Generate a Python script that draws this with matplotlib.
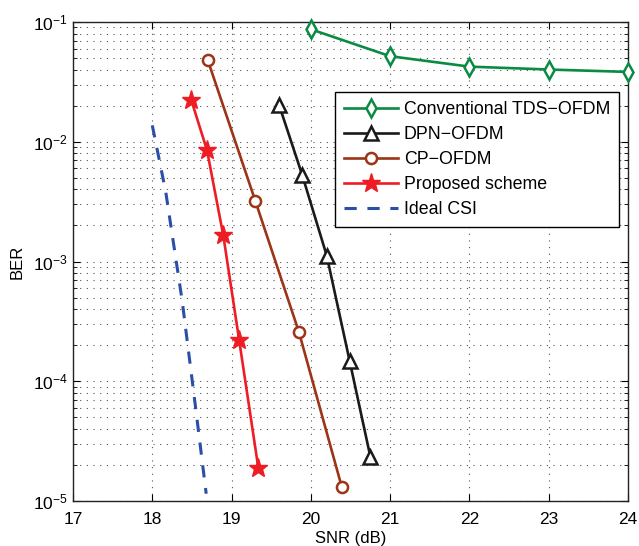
import numpy as np
import matplotlib.pyplot as plt
from matplotlib.ticker import LogLocator, NullLocator, NullFormatter

plt.rcParams['font.family'] = ['Liberation Sans', 'DejaVu Sans']
plt.rcParams['mathtext.fontset'] = 'custom'
plt.rcParams['mathtext.rm'] = 'Liberation Sans'
plt.rcParams['mathtext.it'] = 'Liberation Sans'

## data
snr_tds = [20, 21, 22, 23, 24]
ber_tds = [0.0869, 0.0518, 0.0424, 0.0401, 0.0383]

snr_dpn = [19.6, 19.89, 20.2, 20.49, 20.75]
ber_dpn = [0.0202, 0.0053, 0.00112, 1.47e-4, 2.35e-5]

snr_cp = [18.7, 19.3, 19.85, 20.39]
ber_cp = [0.048, 0.0032, 2.57e-4, 1.31e-5]

snr_prop = [18.49, 18.69, 18.895, 19.095, 19.337]
ber_prop = [0.0225, 0.0085, 0.00166, 2.22e-4, 1.9e-5]

snr_ideal = [18.0, 18.17, 18.375, 18.54, 18.68]
ber_ideal = [0.0137, 0.0038, 4.8e-4, 6.5e-5, 1.15e-5]

labels = ['Conventional TDS\u2212OFDM', 'DPN\u2212OFDM', 'CP\u2212OFDM', 'Proposed scheme', 'Ideal CSI']
x_ticks = [17, 18, 19, 20, 21, 22, 23, 24]

fig = plt.figure(figsize=(6.39, 5.46), dpi=100)
ax = fig.add_axes([73 / 639, 1 - 501 / 546, 555 / 639, 479 / 546])

lw = 1.9
ax.semilogy(snr_tds, ber_tds, color='#0b8a44', lw=lw, marker='d', markersize=9,
            markerfacecolor='white', markeredgewidth=1.8, label=labels[0], clip_on=False, zorder=5)
ax.semilogy(snr_dpn, ber_dpn, color='#1a1a1a', lw=lw, marker='^', markersize=10,
            markerfacecolor='white', markeredgewidth=1.8, label=labels[1], zorder=5)
ax.semilogy(snr_cp, ber_cp, color='#9c3418', lw=lw, marker='o', markersize=8,
            markerfacecolor='white', markeredgewidth=1.8, label=labels[2], zorder=5)
ax.semilogy(snr_prop, ber_prop, color='#ee1c25', lw=lw, marker='*', markersize=14,
            markeredgewidth=1.0, label=labels[3], zorder=5)
ax.semilogy(snr_ideal, ber_ideal, color='#2a4fa8', lw=2.2, linestyle=(0, (4, 3.5)),
            label=labels[4], zorder=4)

ax.set_xlim(17, 24)
ax.set_ylim(1e-5, 1e-1)
ax.set_xticks(x_ticks)
ax.xaxis.set_minor_locator(NullLocator())
ax.yaxis.set_major_locator(LogLocator(base=10, numticks=10))
ax.yaxis.set_minor_locator(LogLocator(base=10, subs=np.arange(2, 10), numticks=10))
ax.yaxis.set_minor_formatter(NullFormatter())

ax.tick_params(which='both', direction='in', top=True, right=True, labelsize=12.5)
ax.tick_params(which='major', length=5, width=0.8)
ax.tick_params(axis='x', which='major', pad=8)
ax.tick_params(which='minor', length=3, width=0.6)

ax.grid(True, which='major', linestyle=(0, (1, 5)), color='#555555', lw=0.8)
ax.grid(True, which='minor', axis='y', linestyle=(0, (1, 5)), color='#555555', lw=0.8)

for sp in ax.spines.values():
    sp.set_linewidth(1.0)
    sp.set_color('#222222')

ax.set_xlabel('SNR (dB)', fontsize=12, labelpad=3)
ax.set_ylabel('BER', fontsize=12, labelpad=6)

leg = ax.legend(loc='upper right', bbox_to_anchor=(0.984, 0.854), fontsize=12.8,
                handlelength=3.0, fancybox=False, framealpha=1, edgecolor='black',
                borderpad=0.5, labelspacing=0.45, handletextpad=0.35, borderaxespad=0)
leg.get_frame().set_linewidth(1.0)

fig.savefig('out.png', dpi=100)
